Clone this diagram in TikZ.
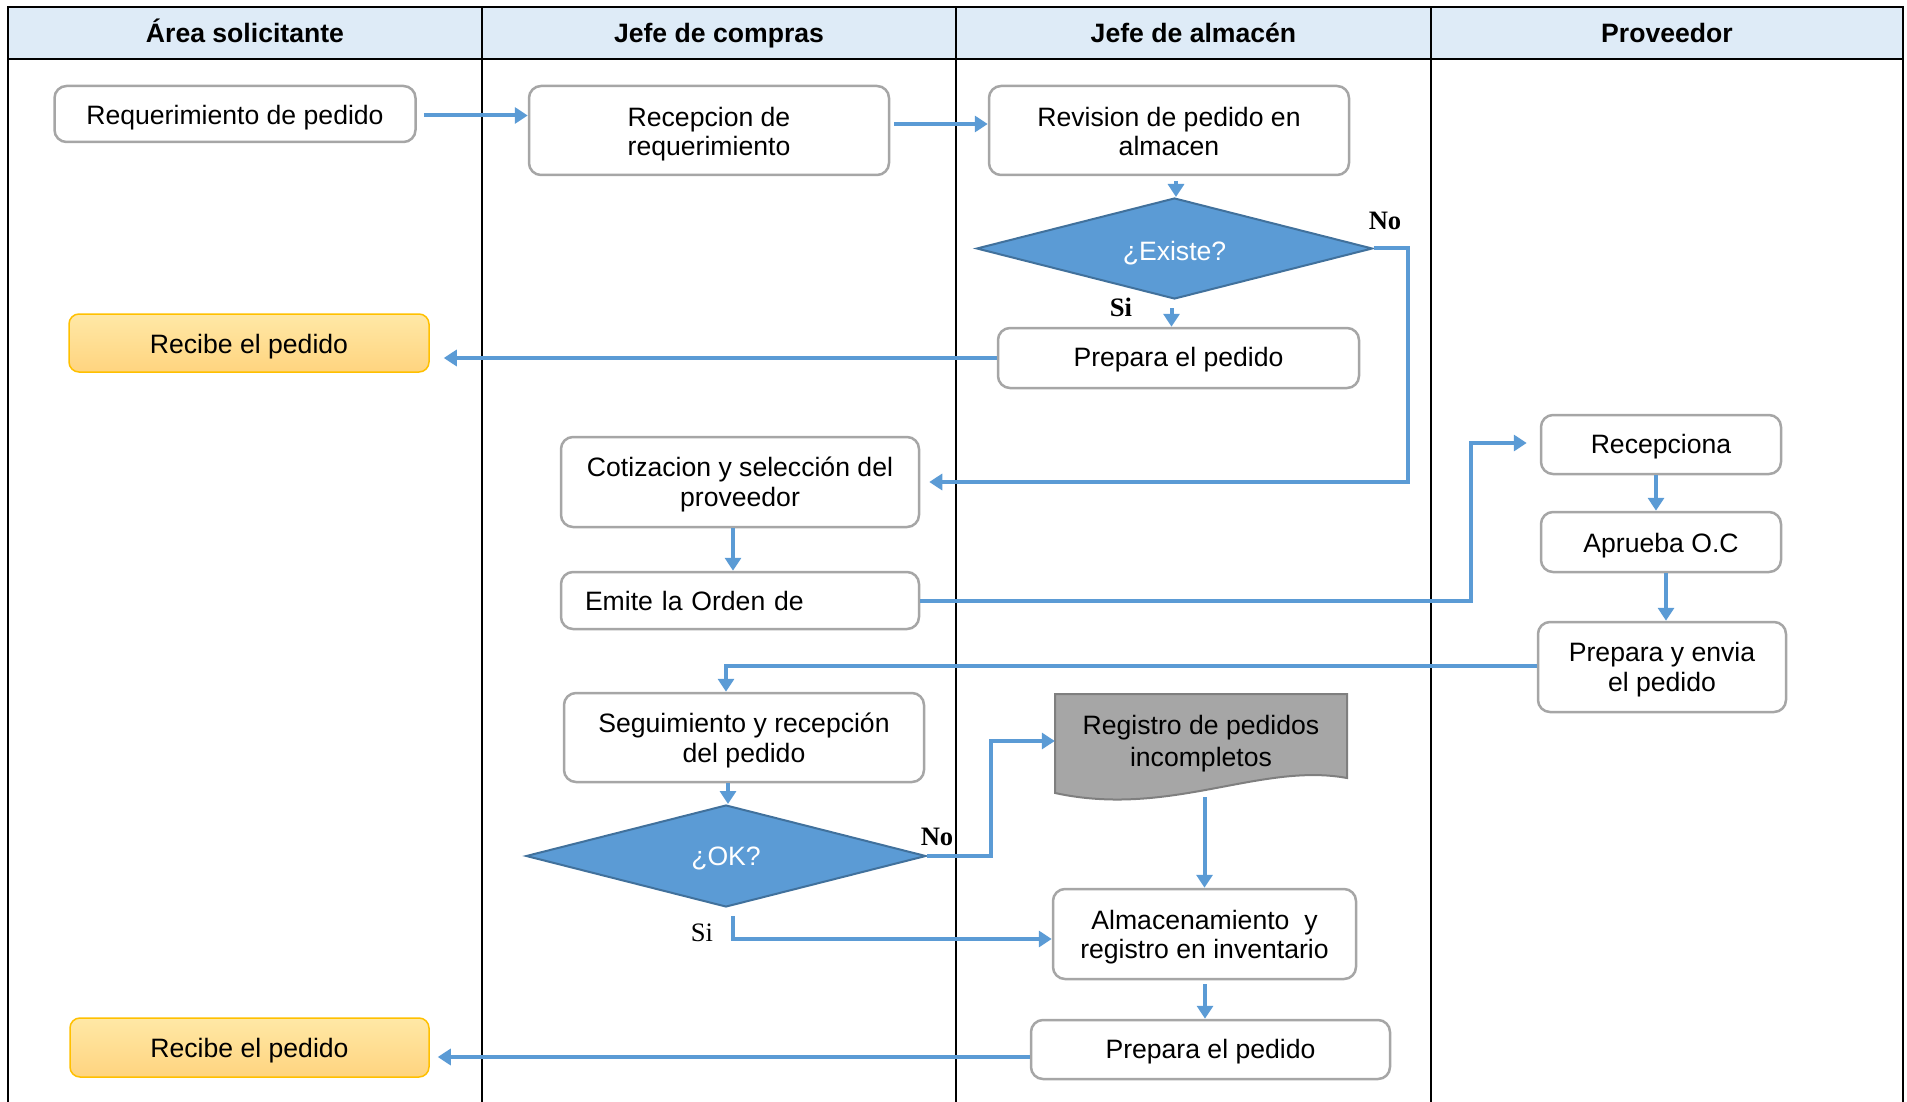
\documentclass[tikz,border=0pt]{standalone}
\usepackage{fontspec}
\setmainfont{Liberation Sans}
\newfontfamily\timesf{Liberation Serif}
\usetikzlibrary{arrows.meta,shapes.geometric,calc}
\definecolor{conn}{HTML}{5B9BD5}
\definecolor{boxgray}{HTML}{A6A6A6}
\definecolor{hdr}{HTML}{DEEBF7}
\definecolor{dia}{HTML}{5B9BD5}
\definecolor{diab}{HTML}{41719C}
\definecolor{yelT}{HTML}{FFE8A6}
\definecolor{yelB}{HTML}{FFD47F}
\definecolor{yelD}{HTML}{FFC000}
\definecolor{docf}{HTML}{A6A6A6}
\definecolor{docd}{HTML}{7F7F7F}
\newcommand\dn[2][3.4]{\raisebox{-#1pt}[\height][\depth]{#2}}
\begin{document}
\begin{tikzpicture}[x=1pt,y=-1pt,
 every node/.style={font=\fontsize{26.6}{29.5}\selectfont},
 box/.style={draw=boxgray, line width=2.5pt, rounded corners=12pt, fill=white, align=center, inner sep=0pt},
 ybox/.style={draw=yelD, line width=1.5pt, rounded corners=10pt, top color=yelT, bottom color=yelB, align=center, inner sep=0pt},
 dec/.style={shape=diamond, aspect=3.9, inner sep=0pt, fill=dia, draw=diab, line width=2pt, text=white},
 hdrtext/.style={font=\fontsize{26.6}{30}\selectfont\bfseries, text height=25pt, text depth=6pt},
 lbl/.style={font=\fontsize{26.6}{30}\selectfont\timesf\bfseries},
 lblr/.style={font=\fontsize{26.6}{30}\selectfont\timesf},
 arr/.style={draw=conn, line width=4pt, -{Triangle[length=13pt,width=16pt]}},
]
\useasboundingbox (0,0) rectangle (1907,1102);
% lanes
\fill[hdr] (8,7) rectangle (1903,59);
\draw[line width=2pt] (8,1102) -- (8,7) -- (1903,7) -- (1903,1102);
\draw[line width=2pt] (8,59) -- (1903,59);
\draw[line width=1.5pt] (482,7) -- (482,1102);
\draw[line width=1.5pt] (956,7) -- (956,1102);
\draw[line width=1.5pt] (1431,7) -- (1431,1102);
\node[hdrtext] (h1) at (245,33) {Área solicitante};
\node[hdrtext] (h2) at (719,33) {Jefe de compras};
\node[hdrtext] (h3) at (1193.5,33) {Jefe de almacén};
\node[hdrtext] (h4) at (1667,33) {Proveedor};
% nodes
\node[box, minimum width=361, minimum height=56] (req) at (235,114) {\dn[3.8]{Requerimiento de pedido}};
\node[box, minimum width=360, minimum height=89] (rec) at (709,130.5) {\dn{Recepcion de}\\\dn{requerimiento}};
\node[box, minimum width=360, minimum height=89] (rev) at (1169,130.5) {\dn[1]{Revision de pedido en}\\\dn[1]{almacen}};
\node[dec, minimum width=396, minimum height=101] (ex) at (1174.5,248.5) {\dn[4.5]{¿Existe?}};
\node[box, minimum width=361, minimum height=60] (prep1) at (1178.5,358) {\dn[1.5]{Prepara el pedido}};
\node[ybox, minimum width=360, minimum height=58] (rcb1) at (249,343) {\dn[3.6]{Recibe el pedido}};
\node[box, minimum width=358, minimum height=90] (cot) at (740,482) {\dn[2.5]{Cotizacion y selección del}\\\dn[2.5]{proveedor}};
\node[box, minimum width=358, minimum height=57, text width=310, align=left] (emi) at (740,600.5) {Emite la Orden de};
\node[box, minimum width=240, minimum height=59] (rcp) at (1661,444.5) {\dn[2.5]{Recepciona}};
\node[box, minimum width=240, minimum height=60] (apr) at (1661,542) {\dn[3.8]{Aprueba O.C}};
\node[box, minimum width=248, minimum height=90] (env) at (1662,667) {\dn[2.5]{Prepara y envia}\\\dn[2.5]{el pedido}};
\node[box, minimum width=360, minimum height=89] (seg) at (744,737.5) {\dn[2.8]{Seguimiento y recepción}\\\dn[2.8]{del pedido}};
\node[dec, minimum width=400, minimum height=102] (ok) at (726,856) {\dn[2]{¿OK?}};
\draw[fill=docf, draw=docd, line width=2pt] (1055,694) -- (1347,694) -- (1347,778) .. controls (1260,762) and (1170,818) .. (1055,793) -- cycle;
\node[minimum width=292, minimum height=99, inner sep=0pt, align=center] (reg) at (1201,743.5) {Registro de pedidos\\[3pt]incompletos};
\node[box, minimum width=303, minimum height=90] (alm) at (1204.5,934) {\dn[3]{Almacenamiento\ \ y}\\\dn[3]{registro en inventario}};
\node[box, minimum width=359, minimum height=59] (prep2) at (1210.5,1049.5) {\dn[2.2]{Prepara el pedido}};
\node[ybox, minimum width=359, minimum height=59] (rcb2) at (249.5,1047.5) {\dn[2.8]{Recibe el pedido}};
% connectors
\draw[arr] ($(req.east)+(7,1.5)$) -- ($(req.east -| rec.west)+(0,1.5)$);
\draw[arr] ($(rec.east)+(4,-6.5)$) -- ($(rev.west)+(0,-6.5)$);
\draw[arr] ($(ex.north)+(1.5,-16)$) -- ($(ex.north)+(1.5,0)$);
\draw[arr] ($(ex.south)+(-3,8)$) -- ($(prep1.north -| ex.south)+(-3,0)$);
\draw[arr, shorten >=9pt] (ex.east) -- ($(ex.east)+(34,0)$) |- (cot.east);
\draw[arr, shorten >=14pt] (prep1.west) -- (prep1.west -| rcb1.east);
\draw[arr] ($(cot.south)+(-7,0)$) -- ($(emi.north)+(-7,0)$);
\draw[arr, shorten >=13pt] (emi.east) -- ($(emi.east)+(551,0)$) |- ($(rcp.west)+(0,-1.5)$);
\draw[arr] ($(rcp.south)+(-5,0)$) -- ($(apr.north)+(-5,0)$);
\draw[arr] ($(apr.south)+(5,0)$) -- ($(env.north)+(4,0)$);
\draw[arr] ($(env.west)+(0,-1.5)$) -| ($(seg.north)+(-18,0)$);
\draw[arr] ($(seg.south)+(-16,0)$) -- ($(ok.north)+(2,0)$);
\draw[arr] (ok.east) -- ($(ok.east)+(64,0)$) |- ($(reg.west)+(0,-2.5)$);
\draw[arr] ($(ok.south)+(7,8)$) |- ($(alm.west)+(0,5)$);
\draw[arr] ($(alm.north |- reg.south)+(0,4)$) -- (alm.north);
\draw[arr] ($(alm.south)+(0.5,4)$) -- ($(prep2.north -| alm.south)+(0.5,0)$);
\draw[arr, shorten >=8pt] ($(prep2.west)+(0,7.5)$) -- ($(prep2.west -| rcb2.east)+(0,7.5)$);
% labels
\node[lbl] (no1) at (1385,221) {No};
\node[lbl] (si1) at (1121,307) {Si};
\node[lbl] (no2) at (937,837) {No};
\node[lblr] (si2) at (702,933) {Si};
\end{tikzpicture}
\end{document}
